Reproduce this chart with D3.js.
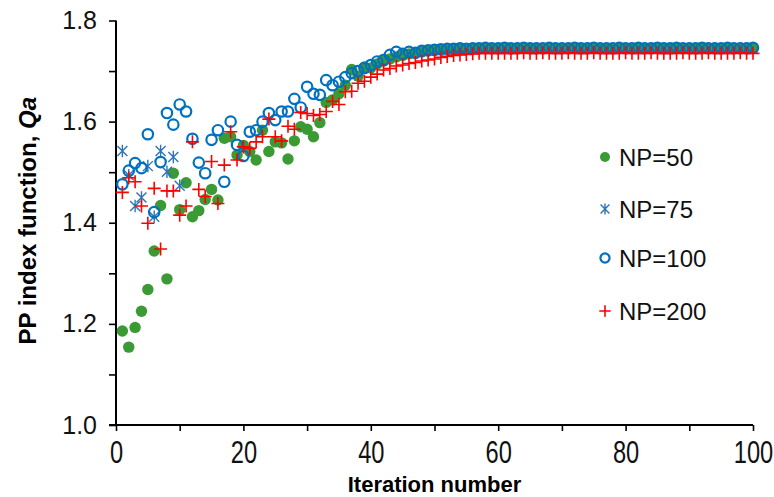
<!DOCTYPE html>
<html>
<head>
<meta charset="utf-8">
<script src="https://cdn.jsdelivr.net/npm/d3@7"></script>
<style>
  html, body { margin: 0; padding: 0; background: #fff; }
  svg { display: block; font-family: "Liberation Sans", Arial, sans-serif; }
</style>
</head>
<body>
<svg id="chart" width="774" height="497"></svg>
<script>
// Qa value per iteration for each population size
const np50 = [
  1.186,1.154,1.193,1.225,1.268,1.344,1.434,1.289,1.498,1.426,
  1.479,1.412,1.424,1.446,1.466,1.445,1.567,1.570,1.534,1.553,
  1.541,1.524,1.583,1.541,1.560,1.558,1.526,1.562,1.590,1.585,
  1.570,1.598,1.638,1.643,1.655,1.672,1.703,1.690,1.708,1.706,
  1.714,1.720,1.724,1.728,1.731,1.734,1.736,1.738,1.740,1.741,
  1.742,1.743,1.743,1.744,1.744,1.744,1.745,1.744,1.745,1.745,
  1.745,1.744,1.745,1.745,1.745,1.745,1.745,1.745,1.745,1.745,
  1.745,1.745,1.745,1.745,1.745,1.745,1.745,1.745,1.745,1.745,
  1.745,1.745,1.745,1.745,1.745,1.745,1.745,1.745,1.745,1.745,
  1.745,1.745,1.745,1.745,1.745,1.745,1.745,1.745,1.745,1.745
];
const np75 = [
  1.542,1.494,1.433,1.450,1.512,1.412,1.542,1.501,1.530,1.473
];
const np100 = [
  1.476,1.503,1.518,1.508,1.575,1.421,1.520,1.617,1.594,1.634,
  1.620,1.566,1.519,1.498,1.564,1.583,1.481,1.600,1.554,1.532,
  1.580,1.583,1.600,1.617,1.603,1.620,1.620,1.645,1.628,1.669,
  1.655,1.653,1.682,1.672,1.679,1.688,1.696,1.700,1.706,1.712,
  1.719,1.722,1.732,1.738,1.734,1.738,1.736,1.740,1.741,1.742,
  1.743,1.744,1.744,1.745,1.744,1.745,1.745,1.746,1.745,1.745,
  1.746,1.745,1.745,1.746,1.745,1.745,1.745,1.746,1.745,1.745,
  1.745,1.746,1.745,1.745,1.746,1.745,1.745,1.745,1.746,1.745,
  1.745,1.746,1.745,1.745,1.746,1.745,1.745,1.746,1.745,1.745,
  1.745,1.746,1.745,1.745,1.745,1.746,1.745,1.745,1.745,1.746
];
const np200 = [
  1.460,1.489,1.481,1.433,1.399,1.468,1.348,1.463,1.463,1.415,
  1.433,1.560,1.466,1.452,1.521,1.438,1.514,1.580,1.524,1.550,
  1.547,1.560,1.570,1.605,1.570,1.562,1.591,1.585,1.618,1.616,
  1.612,1.614,1.620,1.640,1.634,1.659,1.660,1.676,1.680,1.688,
  1.694,1.702,1.705,1.710,1.712,1.715,1.717,1.720,1.722,1.724,
  1.727,1.729,1.731,1.732,1.733,1.734,1.735,1.735,1.735,1.735,
  1.735,1.735,1.735,1.736,1.735,1.735,1.736,1.735,1.735,1.735,
  1.736,1.735,1.735,1.735,1.736,1.735,1.735,1.735,1.735,1.736,
  1.735,1.735,1.735,1.736,1.735,1.735,1.735,1.735,1.736,1.735,
  1.735,1.735,1.736,1.735,1.735,1.735,1.735,1.736,1.735,1.735
];

const seriesNames = ["NP=50", "NP=75", "NP=100", "NP=200"];
const xTicks = [0, 20, 40, 60, 80, 100];
const yTicks = [1.0, 1.2, 1.4, 1.6, 1.8];
const xTitle = "Iteration number";

const svg = d3.select("#chart");

const x = d3.scaleLinear().domain([0, 100]).range([116, 753]);
const y = d3.scaleLinear().domain([1.0, 1.8]).range([425, 20.5]);

// marker shapes, centred at the origin
const starPath = r => `M${-r},${-r}L${r},${r}M${-r},${r}L${r},${-r}M0,${-r * 1.25}L0,${r * 1.25}`;
const markers = {
  dot:  (g, k) => g.append("circle").attr("r", 5.7 * k).attr("fill", "#3a9a33"),
  star: (g, k) => g.append("path").attr("d", starPath(5 * k))
          .attr("stroke", "#2e75b6").attr("stroke-width", 1.4).attr("fill", "none"),
  ring: (g, k) => g.append("circle").attr("r", 5.2 * k)
          .attr("fill", "none").attr("stroke", "#0070c0").attr("stroke-width", 2.2),
  plus: (g, k) => g.append("path").attr("d", `M${-6.5 * k},0L${6.5 * k},0M0,${-6.5 * k}L0,${6.5 * k}`)
          .attr("stroke", "#ff0000").attr("stroke-width", 1.6).attr("fill", "none")
};

const series = [
  { name: seriesNames[0], values: np50,  marker: "dot" },
  { name: seriesNames[1], values: np75,  marker: "star" },
  { name: seriesNames[2], values: np100, marker: "ring" },
  { name: seriesNames[3], values: np200, marker: "plus" }
];

// axes
const yMinor = d3.range(10, 19).map(d => d / 10);
const yAxis = d3.axisLeft(y)
  .tickValues(yMinor)
  .tickSize(7)
  .tickPadding(12)
  .tickFormat(d => yTicks.some(t => Math.abs(t - d) < 1e-9) ? d3.format(".1f")(d) : "");
const gy = svg.append("g").attr("transform", "translate(116,0)").call(yAxis);
gy.select(".domain").attr("stroke", "#000").attr("stroke-width", 2)
  .attr("d", `M0,${y(1.8)}V${y(1.0)}`);
gy.selectAll(".tick line").attr("stroke", "#000").attr("stroke-width", 1.6);
gy.selectAll(".tick text").attr("font-size", 25).attr("fill", "#111")
  .attr("font-family", "'Liberation Sans', Arial, sans-serif");

const xAxis = d3.axisBottom(x)
  .tickValues(d3.range(0, 101, 10))
  .tickSize(6)
  .tickPadding(6)
  .tickFormat(d => xTicks.includes(d) ? d : "");
const gx = svg.append("g").attr("transform", `translate(0,${y(1.0)})`).call(xAxis);
gx.select(".domain").attr("stroke", "#000").attr("stroke-width", 2)
  .attr("d", `M${x(0) - 7},0H${x(100)}`);
gx.selectAll(".tick line").attr("stroke", "#000").attr("stroke-width", 1.6);
gx.selectAll(".tick text")
  .attr("font-size", 32).attr("fill", "#111")
  .attr("font-family", "'Liberation Sans', Arial, sans-serif")
  .attr("dy", null).attr("y", 0)
  .attr("transform", "translate(0,38) scale(0.74,1)");

// points
const plot = svg.append("g");
series.forEach(s => {
  const g = plot.append("g").attr("class", "series");
  s.values.forEach((v, i) => {
    const m = g.append("g").attr("transform", `translate(${x(i + 1)},${y(v)})`);
    markers[s.marker](m, 1);
  });
});

// axis titles
svg.append("text")
  .attr("transform", `translate(36,${(y(1.8) + y(1.0)) / 2 - 2}) rotate(-90)`)
  .attr("text-anchor", "middle")
  .attr("font-size", 24).attr("font-weight", "bold").attr("fill", "#000")
  .call(t => {
    t.append("tspan").text("PP index function, ");
    t.append("tspan").attr("font-style", "italic").text("Qa");
  });

svg.append("text")
  .attr("x", (x(0) + x(100)) / 2).attr("y", 492)
  .attr("text-anchor", "middle")
  .attr("font-size", 22).attr("font-weight", "bold").attr("fill", "#000")
  .text(xTitle);

// legend
const legendRows = [157, 209, 258, 311];
const legend = svg.append("g");
series.forEach((s, i) => {
  const row = legend.append("g").attr("transform", `translate(605,${legendRows[i]})`);
  markers[s.marker](row.append("g"), 0.88);
  row.append("text")
    .attr("x", 14).attr("y", 8.5)
    .attr("font-size", 24).attr("fill", "#111")
    .text(s.name);
});
</script>
</body>
</html>
